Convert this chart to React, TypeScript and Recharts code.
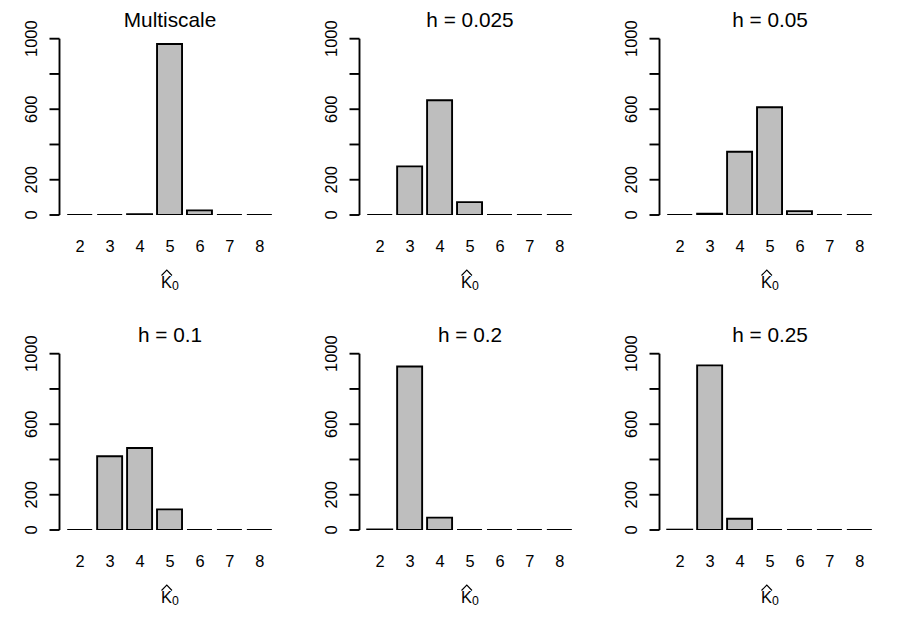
import React from 'react';
import { BarChart, Bar, XAxis, YAxis } from 'recharts';

// Number of runs (out of 1000) selecting each estimated number of components
const categories = ['2', '3', '4', '5', '6', '7', '8'];
const multiscaleCounts = [0, 0, 4, 970, 26, 0, 0];
const h0025Counts = [0, 276, 651, 73, 0, 0, 0];
const h005Counts = [0, 8, 359, 611, 22, 0, 0];
const h01Counts = [0, 418, 465, 117, 0, 0, 0];
const h02Counts = [3, 927, 70, 0, 0, 0, 0];
const h025Counts = [2, 934, 64, 0, 0, 0, 0];

const panelTitles = ['Multiscale', 'h = 0.025', 'h = 0.05', 'h = 0.1', 'h = 0.2', 'h = 0.25'];
const panelCounts = [multiscaleCounts, h0025Counts, h005Counts, h01Counts, h02Counts, h025Counts];

const yTicks = [0, 200, 400, 600, 800, 1000];
const yLabelled = [0, 200, 600, 1000];

const FONT = '"Liberation Sans", Arial, Helvetica, sans-serif';
const PANEL_W = 300;
const PANEL_H = 315;
const LINE_W = 1.9;

function YTick(props: any) {
  const { x, y, payload } = props;
  if (!yLabelled.includes(payload.value)) return <g />;
  const bx = x - 12.3;
  return (
    <text
      x={bx}
      y={y}
      transform={`rotate(-90, ${bx}, ${y})`}
      textAnchor="middle"
      fontSize={16.4}
      fill="#000"
      fontFamily={FONT}
    >
      {payload.value}
    </text>
  );
}

function XTick(props: any) {
  const { x, y, payload } = props;
  return (
    <text x={x} y={y + 37} textAnchor="middle" fontSize={16.4} fill="#000" fontFamily={FONT}>
      {payload.value}
    </text>
  );
}

// Bars keep their outline even at zero height, drawn as a line on the baseline
function BarShape(props: any) {
  const { x, y, width, height } = props;
  return (
    <path
      d={`M${x},${y}h${width}v${height}h${-width}Z`}
      fill="#bebebe"
      stroke="#000"
      strokeWidth={LINE_W}
    />
  );
}

function Panel({ title, counts }: { title: string; counts: number[] }) {
  const data = categories.map((k, i) => ({ k, n: counts[i] }));
  const cx = 170;
  return (
    <BarChart
      width={PANEL_W}
      height={PANEL_H}
      data={data}
      margin={{ top: 38.7, right: 19.5, bottom: 0, left: 0 }}
      barSize={25}
    >
      <XAxis
        dataKey="k"
        type="category"
        axisLine={false}
        tickLine={false}
        tickSize={0}
        tickMargin={0}
        height={100}
        padding={{ left: 5.7, right: 5.7 }}
        tick={<XTick />}
        interval={0}
      />
      <YAxis
        type="number"
        domain={[0, 1000]}
        ticks={yTicks}
        width={59.5}
        tickSize={10}
        tickMargin={0}
        axisLine={{ stroke: '#000', strokeWidth: LINE_W }}
        tickLine={{ stroke: '#000', strokeWidth: LINE_W }}
        tick={<YTick />}
        interval={0}
        allowDataOverflow
      />
      <Bar dataKey="n" isAnimationActive={false} shape={<BarShape />} />
      <text x={cx} y={27.1} textAnchor="middle" fontSize={20.8} fill="#000" fontFamily={FONT}>
        {title}
      </text>
      <path d="M161.5,275.5L166.8,270L172,275.5" fill="none" stroke="#000" strokeWidth={1.1} />
      <text x={cx} y={287.5} textAnchor="middle" fontSize={16.4} fill="#000" fontFamily={FONT}>
        <tspan>K</tspan>
        <tspan fontSize={12.3} dy={2.5}>0</tspan>
      </text>
    </BarChart>
  );
}

export default function App() {
  return (
    <div
      style={{
        position: 'absolute',
        left: 0,
        top: 0,
        width: 900,
        height: 630,
        background: '#fff',
      }}
    >
      {panelTitles.map((t, i) => (
        <div
          key={t}
          style={{
            position: 'absolute',
            left: (i % 3) * PANEL_W,
            top: Math.floor(i / 3) * PANEL_H,
            width: PANEL_W,
            height: PANEL_H,
          }}
        >
          <Panel title={t} counts={panelCounts[i]} />
        </div>
      ))}
    </div>
  );
}
